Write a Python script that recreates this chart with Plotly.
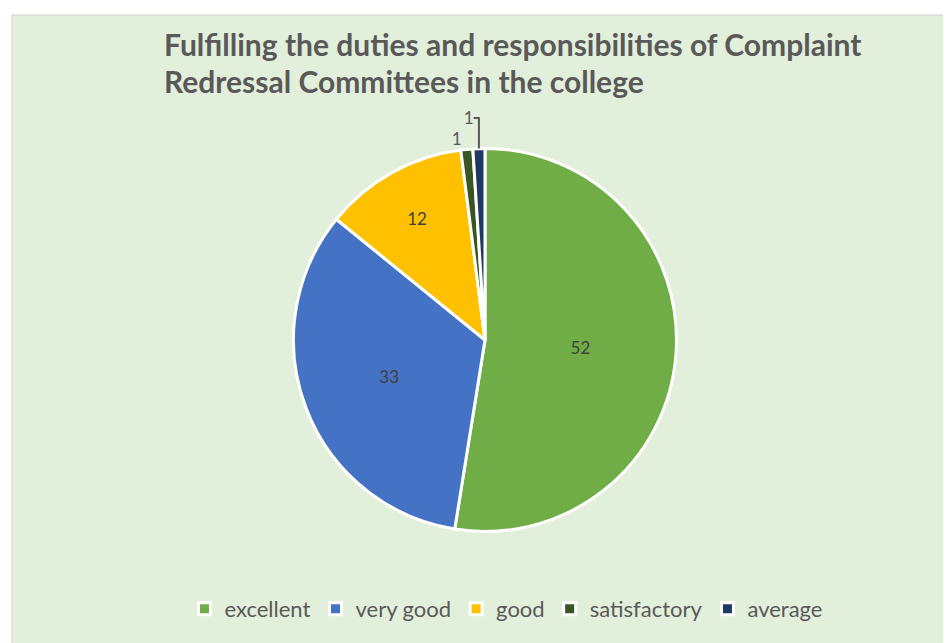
import plotly.graph_objects as go

W, H = 951, 643

categories = ["excellent", "very good", "good", "satisfactory", "average"]
values = [52, 33, 12, 1, 1]
colors = ["#70AD47", "#4472C4", "#FFC000", "#375623", "#203864"]
text_positions = ["inside", "inside", "inside", "outside", "outside"]

title_lines = ["Fulfilling the duties and responsibilities of Complaint",
               "Redressal Committees in the college"]

def px_x(x):
    return x / W

def px_y(y):
    return 1 - y / H

fig = go.Figure()
fig.add_trace(go.Pie(
    labels=categories,
    values=values,
    sort=False,
    direction="clockwise",
    rotation=0,
    marker=dict(colors=colors, line=dict(color="white", width=3)),
    textinfo="value",
    textposition=text_positions,
    insidetextorientation="horizontal",
    insidetextfont=dict(family="Lato", size=17, color="#404040"),
    outsidetextfont=dict(family="Lato", size=17, color="#595959"),
    domain=dict(x=[px_x(285.5), px_x(668.5)], y=[px_y(542), px_y(122)]),
    hoverinfo="label+value",
))

annotations = []
for i, line in enumerate(title_lines):
    annotations.append(dict(
        text="<b>" + line + "</b>", xref="paper", yref="paper",
        x=px_x(154), y=px_y(36 + 37 * i), xanchor="left", yanchor="middle",
        showarrow=False, font=dict(family="Lato", size=30, color="#595959"),
    ))

fig.update_layout(
    width=W, height=H,
    margin=dict(l=0, r=0, t=0, b=0),
    paper_bgcolor="white",
    plot_bgcolor="white",
    shapes=[dict(type="rect", xref="paper", yref="paper",
                 x0=px_x(4), x1=1.0, y0=0, y1=px_y(7),
                 fillcolor="#E2EFDA", line=dict(color="#D0D0D0", width=1), layer="below")],
    annotations=annotations,
    showlegend=True,
    legend=dict(orientation="h", x=px_x(498), xanchor="center", y=px_y(601), yanchor="middle",
                font=dict(family="Lato", size=22, color="#595959"),
                bgcolor="rgba(0,0,0,0)", traceorder="normal"),
)

fig.write_html("out.html")
